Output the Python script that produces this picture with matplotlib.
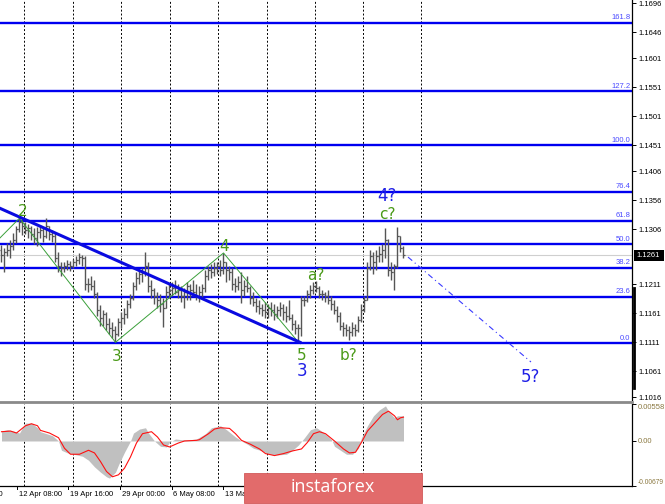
import numpy as np
import matplotlib
matplotlib.use("Agg")
import matplotlib.pyplot as plt
from matplotlib.lines import Line2D
from matplotlib.patches import Rectangle
from matplotlib.transforms import blended_transform_factory

plt.rcParams['font.family'] = ['Liberation Sans', 'DejaVu Sans']

# --- price bars (H4), open = previous close ---
first_open = 1.1270
highs = [
    1.1279, 1.1274, 1.1282, 1.1287, 1.1299, 1.1312, 1.1325, 1.1322, 1.1318, 1.1315,
    1.1312, 1.1308, 1.1310, 1.1313, 1.1308, 1.1325, 1.1312, 1.1305, 1.1301, 1.1267,
    1.1249, 1.1249, 1.1253, 1.1251, 1.1254, 1.1260, 1.1265, 1.1261, 1.1260, 1.1222,
    1.1225, 1.1218, 1.1198, 1.1175, 1.1167, 1.1163, 1.1153, 1.1146, 1.1139, 1.1153,
    1.1163, 1.1170, 1.1184, 1.1194, 1.1215, 1.1232, 1.1236, 1.1239, 1.1267, 1.1249,
    1.1218, 1.1205, 1.1198, 1.1194, 1.1187, 1.1208, 1.1212, 1.1215, 1.1218, 1.1212,
    1.1208, 1.1205, 1.1215, 1.1212, 1.1218, 1.1212, 1.1208, 1.1212, 1.1236, 1.1243,
    1.1246, 1.1249, 1.1249, 1.1253, 1.1265, 1.1250, 1.1243, 1.1239, 1.1222, 1.1225,
    1.1232, 1.1218, 1.1225, 1.1208, 1.1198, 1.1187, 1.1184, 1.1177, 1.1181, 1.1177,
    1.1181, 1.1177, 1.1174, 1.1181, 1.1177, 1.1174, 1.1184, 1.1160, 1.1149, 1.1143,
    1.1191, 1.1191, 1.1201, 1.1210, 1.1215, 1.1217, 1.1208, 1.1201, 1.1198, 1.1201,
    1.1191, 1.1184, 1.1174, 1.1163, 1.1146, 1.1143, 1.1139, 1.1146, 1.1143, 1.1156,
    1.1177, 1.1191, 1.1249, 1.1270, 1.1267, 1.1270, 1.1277, 1.1281, 1.1308, 1.1289,
    1.1249, 1.1246, 1.1310, 1.1294, 1.1277]
lows = [
    1.1249, 1.1232, 1.1260, 1.1256, 1.1270, 1.1282, 1.1301, 1.1296, 1.1298, 1.1291,
    1.1287, 1.1281, 1.1277, 1.1291, 1.1284, 1.1291, 1.1287, 1.1284, 1.1249, 1.1232,
    1.1225, 1.1232, 1.1236, 1.1234, 1.1239, 1.1243, 1.1246, 1.1243, 1.1201, 1.1198,
    1.1201, 1.1187, 1.1156, 1.1139, 1.1139, 1.1132, 1.1125, 1.1118, 1.1111, 1.1122,
    1.1136, 1.1143, 1.1153, 1.1170, 1.1184, 1.1201, 1.1212, 1.1215, 1.1225, 1.1198,
    1.1187, 1.1177, 1.1170, 1.1163, 1.1137, 1.1170, 1.1187, 1.1191, 1.1194, 1.1187,
    1.1181, 1.1170, 1.1184, 1.1184, 1.1191, 1.1184, 1.1181, 1.1187, 1.1198, 1.1218,
    1.1222, 1.1225, 1.1229, 1.1225, 1.1229, 1.1215, 1.1218, 1.1201, 1.1198, 1.1201,
    1.1179, 1.1191, 1.1198, 1.1177, 1.1174, 1.1163, 1.1160, 1.1156, 1.1153, 1.1153,
    1.1156, 1.1149, 1.1153, 1.1156, 1.1149, 1.1146, 1.1149, 1.1132, 1.1125, 1.1111,
    1.1122, 1.1174, 1.1181, 1.1187, 1.1194, 1.1198, 1.1187, 1.1184, 1.1181, 1.1177,
    1.1167, 1.1160, 1.1146, 1.1132, 1.1122, 1.1122, 1.1115, 1.1122, 1.1122, 1.1129,
    1.1146, 1.1163, 1.1184, 1.1236, 1.1229, 1.1236, 1.1249, 1.1249, 1.1256, 1.1225,
    1.1218, 1.1201, 1.1239, 1.1267, 1.1256]
closes = [
    1.1261, 1.1267, 1.1270, 1.1277, 1.1287, 1.1306, 1.1318, 1.1312, 1.1305, 1.1308,
    1.1298, 1.1291, 1.1301, 1.1305, 1.1294, 1.1312, 1.1298, 1.1294, 1.1256, 1.1243,
    1.1239, 1.1243, 1.1246, 1.1243, 1.1249, 1.1253, 1.1258, 1.1256, 1.1212, 1.1212,
    1.1208, 1.1194, 1.1167, 1.1153, 1.1160, 1.1143, 1.1136, 1.1132, 1.1125, 1.1146,
    1.1153, 1.1160, 1.1177, 1.1187, 1.1208, 1.1222, 1.1229, 1.1232, 1.1243, 1.1208,
    1.1201, 1.1191, 1.1184, 1.1177, 1.1170, 1.1198, 1.1201, 1.1205, 1.1198, 1.1201,
    1.1191, 1.1198, 1.1208, 1.1201, 1.1198, 1.1191, 1.1198, 1.1205, 1.1225, 1.1236,
    1.1232, 1.1239, 1.1243, 1.1236, 1.1249, 1.1236, 1.1232, 1.1212, 1.1208, 1.1215,
    1.1201, 1.1208, 1.1205, 1.1187, 1.1181, 1.1174, 1.1170, 1.1167, 1.1163, 1.1170,
    1.1167, 1.1160, 1.1167, 1.1170, 1.1163, 1.1156, 1.1153, 1.1143, 1.1136, 1.1136,
    1.1184, 1.1184, 1.1194, 1.1201, 1.1208, 1.1205, 1.1194, 1.1194, 1.1191, 1.1184,
    1.1177, 1.1167, 1.1156, 1.1139, 1.1136, 1.1132, 1.1129, 1.1136, 1.1132, 1.1149,
    1.1167, 1.1184, 1.1239, 1.1260, 1.1249, 1.1260, 1.1263, 1.1270, 1.1287, 1.1236,
    1.1232, 1.1243, 1.1294, 1.1274, 1.1261]
current_price = 1.1261

# --- fibonacci grid ---
fib_low = 1.1109
fib_high = 1.1451
fib_levels = [0.0, 23.6, 38.2, 50.0, 61.8, 76.4, 100.0, 127.2, 161.8]

# --- wave markup (bar index, price) ---
trend_x = [-0.5, 99.5]
trend_y = [1.1342, 1.1111]
zig_x = [-0.5, 6, 38, 74, 99]
zig_y = [1.1291, 1.1325, 1.1111, 1.1265, 1.1111]
proj_x = [135.5, 176.5]
proj_y = [1.1258, 1.1077]
wave_green = [("2", 7.2, 1.1336), ("3", 38.5, 1.1086), ("4", 74.2, 1.1277),
              ("5", 100.2, 1.1089), ("a?", 104.8, 1.1227), ("b?", 115.8, 1.1089),
              ("c?", 128.5, 1.1332)]
wave_blue = [("3", 100.2, 1.1061), ("4?", 128.5, 1.1363), ("5?", 176.2, 1.1052)]

# --- oscillator ---
hist_x = [0, 2, 4, 6, 7, 8, 10, 12, 13, 15, 17, 19, 20, 22, 24, 27, 29, 31, 33, 35,
          36, 38, 39, 41, 43, 44, 46, 48, 49, 51, 53, 55, 56, 58, 60, 63, 65, 68, 70, 73,
          75, 78, 80, 82, 84, 87, 89, 92, 95, 97, 99, 101, 103, 105, 107, 110, 111, 113,
          115, 117, 119, 120, 122, 124, 126, 128, 129, 131, 132, 134]
hist_v = [0.0015, 0.0017, 0.0015, 0.0012, 0.0020, 0.0027, 0.0027, 0.0020, 0.0014, 0.0011,
          0.0008, 0.0, -0.0014, -0.0018, -0.0020, -0.0023, -0.0029, -0.0039, -0.0047, -0.0054,
          -0.0056, -0.0047, -0.0036, -0.0017, 0.0, 0.0012, 0.0018, 0.0020, 0.0012, 0.0,
          -0.0008, -0.0009, -0.0002, 0.0003, 0.0002, 0.0002, 0.0003, 0.0011, 0.0020, 0.0023,
          0.0017, 0.0006, 0.0, -0.0005, -0.0011, -0.0015, -0.0020, -0.0021, -0.0020, -0.0014,
          -0.0006, 0.0005, 0.0017, 0.0020, 0.0014, 0.0002, -0.0008, -0.0014,
          -0.0020, -0.0020, -0.0011, 0.0005, 0.0023, 0.0038, 0.0047, 0.0053, 0.0045, 0.0035,
          0.0038, 0.0038]
sig_x = [0, 3, 5, 8, 10, 12, 13, 16, 19, 21, 23, 26, 29, 31, 33, 35, 37, 39, 41, 43,
         45, 47, 50, 52, 54, 56, 59, 61, 65, 66, 69, 71, 73, 76, 78, 80, 83, 86, 88, 91,
         94, 97, 100, 102, 104, 106, 108, 111, 114, 116, 118, 120, 122, 125, 127, 129, 131,
         132, 133, 134]
sig_v = [0.0014, 0.0015, 0.0012, 0.0023, 0.0026, 0.0023, 0.0016, 0.0012, 0.0005, -0.0011,
         -0.0020, -0.0020, -0.0014, -0.0018, -0.0031, -0.0046, -0.0054, -0.0051, -0.0041, -0.0024,
         -0.0003, 0.0011, 0.0014, 0.0006, -0.0006, -0.0009, -0.0003, 0.0, 0.0001, 0.0002,
         0.0011, 0.0018, 0.0020, 0.0019, 0.0011, 0.0001, -0.0005, -0.0012, -0.0019, -0.0022,
         -0.0019, -0.0015, -0.0012, -0.0002, 0.0011, 0.0014, 0.0011, 0.0, -0.0012, -0.0018,
         -0.0017, -0.0002, 0.0015, 0.0030, 0.0040, 0.0045, 0.0038,
         0.0032, 0.0035, 0.0036]
osc_top = 0.00558
osc_bottom = -0.00679

# --- time axis ---
grid_bars = [7.5, 23.8, 39.8, 56.2, 72.2, 88.5, 104.5, 120.5, 139.8]
time_labels = ["5 Apr 00:00", "12 Apr 08:00", "19 Apr 16:00", "29 Apr 00:00",
               "6 May 08:00", "13 May 16:00"]
time_pos = [-13.2, 5.2, 22.3, 39.5, 56.7, 73.8]

price_ticks = [1.1696, 1.1646, 1.1601, 1.1551, 1.1501, 1.1451, 1.1406, 1.1356,
               1.1306, 1.1211, 1.1161, 1.1111, 1.1061, 1.1016]

W, H = 665, 504
fig = plt.figure(figsize=(W / 100, H / 100), dpi=100)
ax = fig.add_axes([0, 104 / H, 632 / W, 400 / H])
ax2 = fig.add_axes([0, 18 / H, 632 / W, 82 / H], sharex=ax)

xlim = (-0.5, 210.17)
ax.set_xlim(*xlim)
ax.set_ylim(1.10115, 1.17012)
ax2.set_ylim(osc_bottom, osc_top)

for a in (ax, ax2):
    for s in ('left', 'top', 'bottom'):
        a.spines[s].set_visible(False)
    a.spines['right'].set_color('black')
    a.spines['right'].set_linewidth(0.9)
    a.tick_params(axis='x', bottom=False, labelbottom=False)
    a.yaxis.tick_right()
    a.tick_params(axis='y', direction='out', length=3, width=0.7, labelsize=5.5, pad=2,
                  colors='black')
    for g in grid_bars:
        a.axvline(g, color='black', lw=0.7, ls=(0, (2, 2)), zorder=1)
ax2.spines['bottom'].set_visible(True)
ax2.spines['bottom'].set_linewidth(0.9)

# fib lines
rng = fib_high - fib_low
for lvl in fib_levels:
    p = fib_low + rng * lvl / 100.0
    ax.axhline(p, color='#0000f0', lw=1.7, zorder=2)
    ax.text(0.997, p + 0.00025, f"{lvl:.1f}", transform=blended_transform_factory(ax.transAxes, ax.transData),
            ha='right', va='bottom', fontsize=5.5, color='#4a4aff', zorder=6)

# current price line
ax.axhline(current_price, color='#cfcfcf', lw=0.8, zorder=1.5)

# bars
xs = np.arange(len(closes))
opens = [first_open] + closes[:-1]
bar_col = '#555555'
ax.vlines(xs, lows, highs, color=bar_col, lw=1.0, zorder=3)
ax.hlines(opens, xs - 0.45, xs, color=bar_col, lw=0.9, zorder=3)
ax.hlines(closes, xs, xs + 0.45, color=bar_col, lw=0.9, zorder=3)

# wave markup
ax.plot(zig_x, zig_y, color='#3aa03a', lw=0.7, zorder=4)
ax.plot(trend_x, trend_y, color='#0a0ae0', lw=2.2, zorder=4)
ax.plot(proj_x, proj_y, color='#3a3aff', lw=0.8, ls=(0, (5, 3, 1, 3)), zorder=4)
for t, x, y in wave_green:
    ax.text(x, y, t, color='#4a9a18', fontsize=11, ha='center', va='center',
            family=['DejaVu Sans'], zorder=6)
for t, x, y in wave_blue:
    ax.text(x, y, t, color='#1f1fe6', fontsize=12, ha='center', va='center',
            family=['DejaVu Sans'], zorder=6)

ax.set_yticks(price_ticks)
ax.set_yticklabels([f"{p:.4f}" for p in price_ticks])

# oscillator
ax2.fill_between(hist_x, 0, hist_v, color='#c0c0c0', lw=0, zorder=2)
ax2.plot(sig_x, sig_v, color='#ff1010', lw=0.8, zorder=3)
ax2.set_yticks([osc_top, 0.0, osc_bottom])
ax2.set_yticklabels(["0.00558", "0.00", "-0.00679"])
ax2.tick_params(axis='y', pad=1.0)
labs = ax2.get_yticklabels()
labs[0].set_va('top')
labs[2].set_va('bottom')
labs[2].set_fontsize(4.8)
for lb in labs:
    lb.set_color('#8a7840')

# time labels
tr = blended_transform_factory(ax2.transData, fig.transFigure)
for t, x in zip(time_labels, time_pos):
    fig.add_artist(Line2D([x, x], [18 / H, 15 / H], transform=tr, color='black', lw=0.7))
    fig.text(x + 0.6, 10 / H, t, transform=tr, fontsize=5.5, ha='left', va='center')

# panel separator and right-axis marker
fig.add_artist(Line2D([0, 632 / W], [1 - 401.5 / H, 1 - 401.5 / H], color='#8a8a8a', lw=2.0))
fig.add_artist(Line2D([633.5 / W, 633.5 / W], [1 - 288 / H, 1 - 388 / H], color='black', lw=2.0))

# current price box
fig.add_artist(Rectangle((634 / W, 1 - 261 / H), 30 / W, 11 / H, transform=fig.transFigure,
                         facecolor='black', edgecolor='none', zorder=10))
fig.text(636 / W, 1 - 255.5 / H, f"{current_price:.4f}", color='white', fontsize=5.5,
         ha='left', va='center', zorder=11)

# watermark banner
fig.add_artist(Rectangle((244 / W, 1 / H), 178 / W, 30 / H, transform=fig.transFigure,
                         facecolor='#e26b6b', edgecolor='#d25a5a', lw=0.6, zorder=20))
fig.text(333 / W, 1 - 487 / H, "instaforex", color='white', fontsize=13, ha='center',
         va='center', family=['Open Sans', 'DejaVu Sans'], zorder=21)

fig.savefig("out.png", dpi=100, facecolor='white')
